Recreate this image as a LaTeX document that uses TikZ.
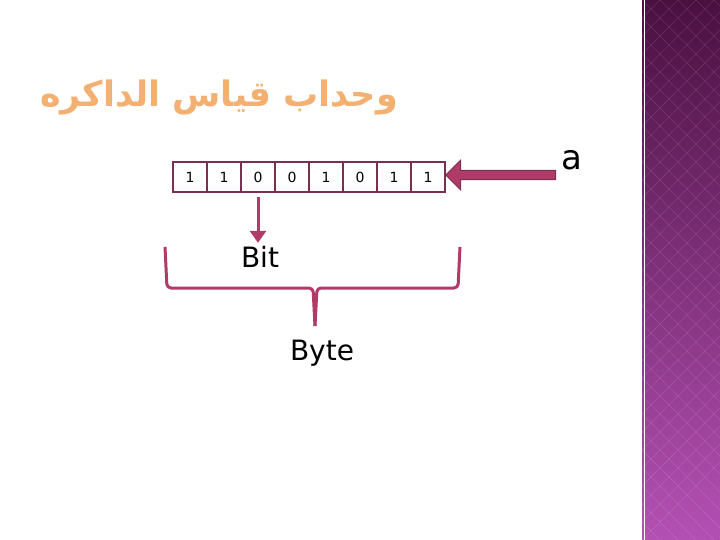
\documentclass[tikz,border=0pt]{standalone}
\usepackage{fontspec}
\setmainfont{DejaVu Sans}
\newfontfamily\arabicfont[Script=Arabic]{DejaVu Sans}
\TeXXeTstate=1
\usetikzlibrary{shapes.arrows,arrows.meta}
\definecolor{berry}{HTML}{B03A68}
\definecolor{cellb}{HTML}{7A2E50}
\definecolor{ptop}{HTML}{4A1040}
\definecolor{pbot}{HTML}{B450B4}
\definecolor{ttl}{HTML}{F3B070}
\begin{document}
\begin{tikzpicture}[x=1pt,y=-1pt,
  cell/.style={draw=cellb,line width=1.6pt,minimum width=34pt,minimum height=30pt,inner sep=0pt,font=\fontsize{14}{14}\selectfont},
  lbl/.style={font=\fontsize{28}{28}\selectfont,inner sep=0pt},
  conn/.style={draw=berry,line width=3pt}]
\useasboundingbox (0,0) rectangle (720,540);
\fill[white] (0,0) rectangle (720,540);
\shade[top color=ptop,bottom color=pbot] (642,0) rectangle (720,540);
\begin{scope}
\clip (642,0) rectangle (720,540);
\foreach \i in {-30,...,30} {
  \draw[white,opacity=0.12,line width=0.6pt] (642+\i*18,0) -- ++(540,540);
  \draw[white,opacity=0.12,line width=0.6pt] (642+\i*18,0) -- ++(-540,540);
}
\end{scope}
\draw[white,line width=1pt] (644,0) -- (644,540);
\node[font=\arabicfont\bfseries\fontsize{35}{35}\selectfont,text=ttl,inner sep=0pt] (title) at (219,97) {\beginR وحداب قياس الداكره\endR};
\foreach \v [count=\k] in {1,1,0,0,1,0,1,1}
  \node[cell] (c\k) at (156+34*\k,177) {\v};
\node[lbl,font=\fontsize{34}{34}\selectfont] (a) at (572,160) {a};
\node[single arrow,fill=berry,draw=cellb,line width=1pt,shape border rotate=180,minimum height=110pt,minimum width=30pt,single arrow head extend=8pt,inner sep=3pt] (arr) at (503,175) {};
\draw[conn,-{Triangle[length=12pt,width=16pt]}] (c3.south) ++(0,4) coordinate (bs) -- ++(0,46) coordinate (be);
\node[lbl] (bit) at (260,257) {Bit};
\coordinate (l1) at (165,247); \coordinate (r1) at (460,247);
\draw[conn,line join=round,rounded corners=4pt] (l1) -- (167,288) -- (313,288) -- (315,326);
\draw[conn,line join=round,rounded corners=4pt] (r1) -- (458,288) -- (317,288) -- (315,326);
\node[lbl] (byte) at (322,353) {Byte};
\end{tikzpicture}
\end{document}
